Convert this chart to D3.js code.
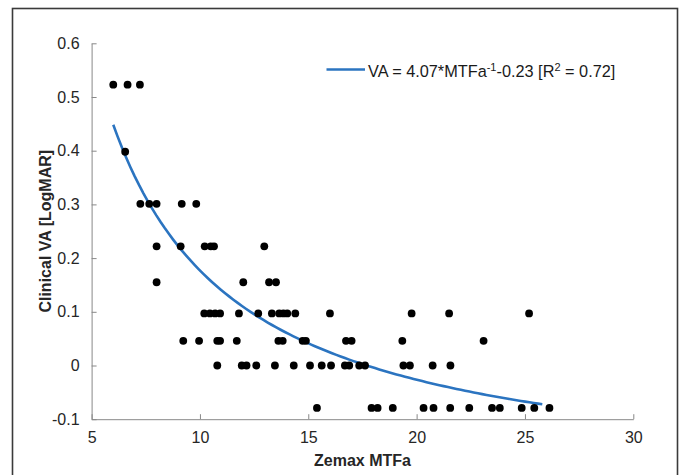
<!DOCTYPE html>
<html>
<head>
<meta charset="utf-8">
<script src="https://cdn.jsdelivr.net/npm/d3@7"></script>
<style>
  body { margin: 0; background: #fff; }
  svg { display: block; font-family: Arial, "Liberation Sans", sans-serif; }
  .axis path, .axis line { stroke: #888; }
  .axis text { fill: #262626; font-size: 16px; font-family: Arial, "Liberation Sans", sans-serif; }
</style>
</head>
<body>
<svg id="chart" width="680" height="475"></svg>
<script>
// logMAR levels seen on the y axis (rows of dots)
const vaLevels = [0.523, 0.398, 0.301, 0.222, 0.155, 0.097, 0.046, 0, -0.079];

// Zemax MTFa of the eyes at each level
const mtfaAt0523 = [6.0, 6.66, 7.23];
const mtfaAt0398 = [6.55];
const mtfaAt0301 = [7.25, 7.66, 8.0, 9.16, 9.83];
const mtfaAt0222 = [8.0, 9.11, 10.22, 10.5, 10.65, 12.97];
const mtfaAt0155 = [8.0, 12.0, 13.19, 13.51];
const mtfaAt0097 = [10.2, 10.46, 10.7, 10.93, 11.8, 12.69, 13.32, 13.66, 13.85, 14.03, 14.4, 16.0, 19.77, 21.5, 25.19];
const mtfaAt0046 = [9.23, 9.96, 10.8, 10.93, 11.7, 13.62, 13.82, 14.74, 14.89, 16.74, 17.0, 19.34, 23.09];
const mtfaAt0000 = [10.8, 11.93, 12.15, 12.6, 13.46, 14.33, 15.08, 15.62, 16.05, 16.69, 16.89, 17.35, 17.62, 19.39, 19.69, 20.74, 21.56];
const mtfaAtM079 = [15.4, 17.92, 18.2, 18.9, 20.32, 20.78, 21.55, 22.43, 23.48, 23.84, 24.85, 25.43, 26.13];

const mtfaByLevel = [mtfaAt0523, mtfaAt0398, mtfaAt0301, mtfaAt0222, mtfaAt0155,
                     mtfaAt0097, mtfaAt0046, mtfaAt0000, mtfaAtM079];

// fitted model from the legend: VA = a * MTFa^-1 + b
const fitA = 4.07, fitB = -0.23;
const fitRange = [6.0, 25.8];

const xTicks = [5, 10, 15, 20, 25, 30];
const yTicks = [-0.1, 0, 0.1, 0.2, 0.3, 0.4, 0.5, 0.6];
const yTickLabels = ["-0.1", "0", "0.1", "0.2", "0.3", "0.4", "0.5", "0.6"];

const xLabel = "Zemax MTFa";
const yLabel = "Clinical VA [LogMAR]";

let svg = d3.select("#chart");

// outer frame
svg.append("rect")
    .attr("x", 12.5).attr("y", 8.5)
    .attr("width", 665).attr("height", 480)
    .attr("fill", "none")
    .attr("stroke", "#3a3a3a")
    .attr("stroke-width", 1.6);

let x = d3.scaleLinear().domain([5, 30]).range([91.6, 633.3]),
    y = d3.scaleLinear().domain([-0.1, 0.6]).range([419.2, 43.3]);

// axes, MATLAB style ticks pointing inward
svg.append("g")
    .attr("class", "axis axis--x")
    .attr("transform", "translate(0," + y(-0.1) + ")")
    .call(d3.axisBottom(x).tickValues(xTicks).tickSizeInner(-5).tickSizeOuter(0).tickPadding(12).tickFormat(d3.format("d")));

svg.append("g")
    .attr("class", "axis axis--y")
    .attr("transform", "translate(" + x(5) + ",0)")
    .call(d3.axisLeft(y).tickValues(yTicks).tickSizeInner(-5).tickSizeOuter(0).tickPadding(12)
        .tickFormat((d, i) => yTickLabels[i]));

svg.append("text")
    .attr("x", (x(5) + x(30)) / 2)
    .attr("y", 466)
    .attr("text-anchor", "middle")
    .style("font-size", "16px")
    .style("font-weight", "bold")
    .attr("fill", "#262626")
    .text(xLabel);

svg.append("text")
    .attr("transform", "translate(51," + ((y(-0.1) + y(0.6)) / 2) + ") rotate(-90)")
    .attr("text-anchor", "middle")
    .style("font-size", "16px")
    .style("font-weight", "bold")
    .attr("fill", "#262626")
    .text(yLabel);

// fitted curve
let curvePts = d3.range(0, 101).map(i => {
    let m = fitRange[0] + (fitRange[1] - fitRange[0]) * i / 100;
    return [m, fitA / m + fitB];
});
svg.append("path")
    .datum(curvePts)
    .attr("fill", "none")
    .attr("stroke", "#2b74c0")
    .attr("stroke-width", 2.6)
    .attr("d", d3.line().x(d => x(d[0])).y(d => y(d[1])));

// scatter points
let points = [];
vaLevels.forEach((va, i) => {
    mtfaByLevel[i].forEach(m => points.push({mtfa: m, va: va}));
});
svg.append("g")
    .attr("class", "dots")
    .selectAll("circle")
    .data(points)
    .enter().append("circle")
    .attr("cx", d => x(d.mtfa))
    .attr("cy", d => y(d.va))
    .attr("r", 3.9)
    .attr("fill", "#000");

// legend
let legend = svg.append("g").attr("class", "legend");
legend.append("line")
    .attr("x1", 326.5).attr("x2", 365)
    .attr("y1", 69.5).attr("y2", 69.5)
    .attr("stroke", "#2b74c0")
    .attr("stroke-width", 2.6);
let lt = legend.append("text")
    .attr("x", 368)
    .attr("y", 77)
    .attr("fill", "#1a1a1a")
    .style("font-size", "16.3px");
lt.append("tspan").text("VA = 4.07*MTFa");
lt.append("tspan").attr("dy", -6).style("font-size", "11px").text("-1");
lt.append("tspan").attr("dy", 6).text("-0.23 [R");
lt.append("tspan").attr("dy", -6).style("font-size", "11px").text("2");
lt.append("tspan").attr("dy", 6).text(" = 0.72]");
</script>
</body>
</html>
